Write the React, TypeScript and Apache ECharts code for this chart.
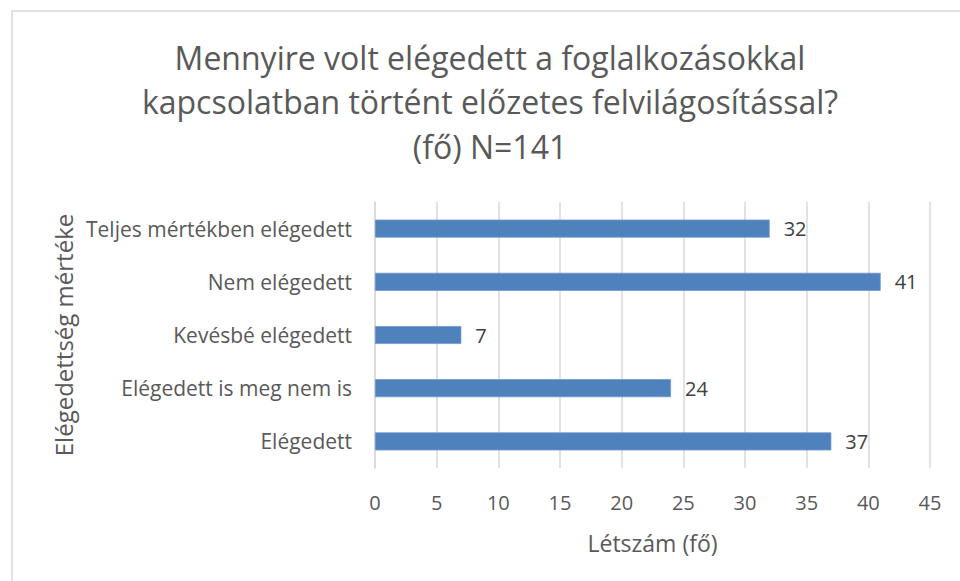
import React, { useEffect, useRef } from "react";
import * as echarts from "echarts";

const categories = [
  "Teljes mértékben elégedett",
  "Nem elégedett",
  "Kevésbé elégedett",
  "Elégedett is meg nem is",
  "Elégedett",
];
const values = [32, 41, 7, 24, 37];
const titleLines = [
  "Mennyire volt elégedett a foglalkozásokkal",
  "kapcsolatban történt előzetes felvilágosítással?",
  "(fő) N=141",
];
const xAxisName = "Létszám (fő)";
const yAxisName = "Elégedettség mértéke";

const FONT = "'Open Sans', sans-serif";

export default function App() {
  const ref = useRef<HTMLDivElement>(null);
  useEffect(() => {
    document.body.style.margin = "0";
    const chart = echarts.init(ref.current!, null, { renderer: "svg" });
    chart.setOption({
      animation: false,
      backgroundColor: "#ffffff",
      textStyle: { fontFamily: FONT },
      graphic: [
        {
          type: "rect",
          shape: { x: 12, y: 11, width: 960, height: 580 },
          style: { fill: "none", stroke: "#d9d9d9", lineWidth: 1.5 },
          silent: true,
        },
        {
          type: "text",
          x: 490,
          y: 35,
          style: {
            text: titleLines.join("\n"),
            fontFamily: FONT,
            fontSize: 32,
            lineHeight: 44.5,
            fill: "#595959",
            textAlign: "center",
            textVerticalAlign: "top",
          },
        },
      ],
      grid: { left: 375, right: 30, top: 202, bottom: 113, containLabel: false },
      xAxis: {
        type: "value",
        min: 0,
        max: 45,
        interval: 5,
        name: xAxisName,
        nameLocation: "middle",
        nameGap: 63,
        nameTextStyle: { fontSize: 23, color: "#595959", fontFamily: FONT },
        axisLine: { show: false },
        axisTick: { show: false },
        axisLabel: { fontSize: 20, color: "#595959", margin: 24, fontFamily: FONT },
        splitLine: { show: true, lineStyle: { color: "#d9d9d9", width: 1.5 } },
      },
      yAxis: {
        type: "category",
        data: categories,
        inverse: true,
        name: yAxisName,
        nameLocation: "middle",
        nameRotate: 90,
        nameGap: 300,
        nameTextStyle: { fontSize: 24, color: "#595959", fontFamily: FONT },
        axisLine: { show: true, lineStyle: { color: "#d9d9d9", width: 1.5 } },
        axisTick: { show: false },
        axisLabel: { fontSize: 21, color: "#595959", margin: 23, fontFamily: FONT },
      },
      series: [
        {
          type: "bar",
          data: values,
          barWidth: 18,
          itemStyle: { color: "#4f81bd", borderColor: "#6c97cf", borderWidth: 0.8 },
          label: {
            show: true,
            position: "right",
            distance: 14,
            fontSize: 20,
            color: "#404040",
            fontFamily: FONT,
          },
        },
      ],
    });
    return () => chart.dispose();
  }, []);
  return <div ref={ref} style={{ width: 960, height: 581 }} />;
}
